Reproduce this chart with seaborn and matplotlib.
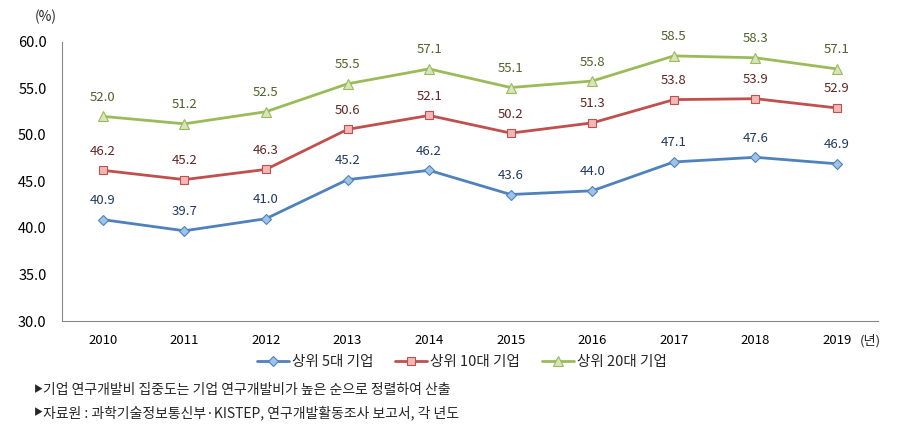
import matplotlib
matplotlib.use("Agg")
import matplotlib.pyplot as plt
import seaborn as sns
import pandas as pd
import numpy as np

# -------------------------------
# DATA
# -------------------------------
years = [2010, 2011, 2012, 2013, 2014, 2015, 2016, 2017, 2018, 2019]
top5 = [40.9, 39.7, 41.0, 45.2, 46.2, 43.6, 44.0, 47.1, 47.6, 46.9]
top10 = [46.2, 45.2, 46.3, 50.6, 52.1, 50.2, 51.3, 53.8, 53.9, 52.9]
top20 = [52.0, 51.2, 52.5, 55.5, 57.1, 55.1, 55.8, 58.5, 58.3, 57.1]
series_names = ["상위 5대 기업", "상위 10대 기업", "상위 20대 기업"]
notes = ["기업 연구개발비 집중도는 기업 연구개발비가 높은 순으로 정렬하여 산출",
         "자료원 : 과학기술정보통신부·KISTEP, 연구개발활동조사 보고서, 각 년도"]

df = pd.DataFrame({
    "year": years * 3,
    "value": top5 + top10 + top20,
    "series": [series_names[0]] * 10 + [series_names[1]] * 10 + [series_names[2]] * 10,
})

sns.set_style("white")
plt.rcParams['font.family'] = ['Noto Sans CJK KR', 'DejaVu Sans']

line_colors = ["#4F81BD", "#C0504D", "#9BBB59"]
face_colors = ["#9DC3E6", "#F2B8B6", "#D7E4BD"]
label_colors = ["#1F3864", "#632523", "#4F6228"]
markers = ["D", "s", "^"]
msizes = [5, 6, 7]

fig = plt.figure(figsize=(9.05, 4.37), dpi=100)
ax = fig.add_axes([0.0685, 0.2654, 0.9015, 0.6386])

for i, name in enumerate(series_names):
    sub = df[df["series"] == name]
    sns.lineplot(data=sub, x="year", y="value", ax=ax, color=line_colors[i],
                 linewidth=2, marker=markers[i], markersize=msizes[i],
                 markerfacecolor=face_colors[i], markeredgecolor=line_colors[i],
                 markeredgewidth=0.8, label=name)
    for x, y in zip(sub["year"], sub["value"]):
        ax.annotate(f"{y:.1f}", (x, y), xytext=(0, 9), textcoords="offset points",
                    ha="center", va="bottom", fontsize=9.5, color=label_colors[i])

ax.set_xlim(2009.5, 2019.5)
ax.set_ylim(30, 60)
ax.set_yticks(np.arange(30, 60.1, 5))
ax.set_yticklabels([f"{v:.1f}" for v in np.arange(30, 60.1, 5)], fontsize=10.5, color="#000000")
ax.set_xticks(years)
ax.set_xticklabels([str(y) for y in years], fontsize=9.5, color="#000000")
ax.set_xticks(np.arange(2009.5, 2019.6, 1), minor=True)
ax.tick_params(axis="x", which="major", length=0, pad=9)
ax.tick_params(axis="x", which="minor", length=5, color="#868686", direction="out")
ax.tick_params(axis="y", length=5, color="#868686", direction="out", pad=6)
ax.set_xlabel("")
ax.set_ylabel("")

for s in ["top", "right"]:
    ax.spines[s].set_visible(False)
for s in ["left", "bottom"]:
    ax.spines[s].set_color("#868686")
    ax.spines[s].set_linewidth(0.8)

ax.legend(loc="center", bbox_to_anchor=(0.49, -0.147), ncol=3, frameon=False,
          fontsize=10.5, handlelength=2.2, columnspacing=1.5, handletextpad=0.2,
          borderaxespad=0)

fig.text(35 / 905, 1 - 17 / 437, "(%)", fontsize=10, ha="left", va="center")
fig.text(870 / 905, 1 - 341 / 437, "(년)", fontsize=9.5, ha="center", va="center")
for k, yy in enumerate([390, 413]):
    fig.text(34 / 905, 1 - yy / 437, "▶", fontsize=6.5, ha="left", va="center")
    fig.text(43 / 905, 1 - yy / 437, notes[k], fontsize=10, ha="left", va="center")

fig.savefig("out.png", dpi=100)
